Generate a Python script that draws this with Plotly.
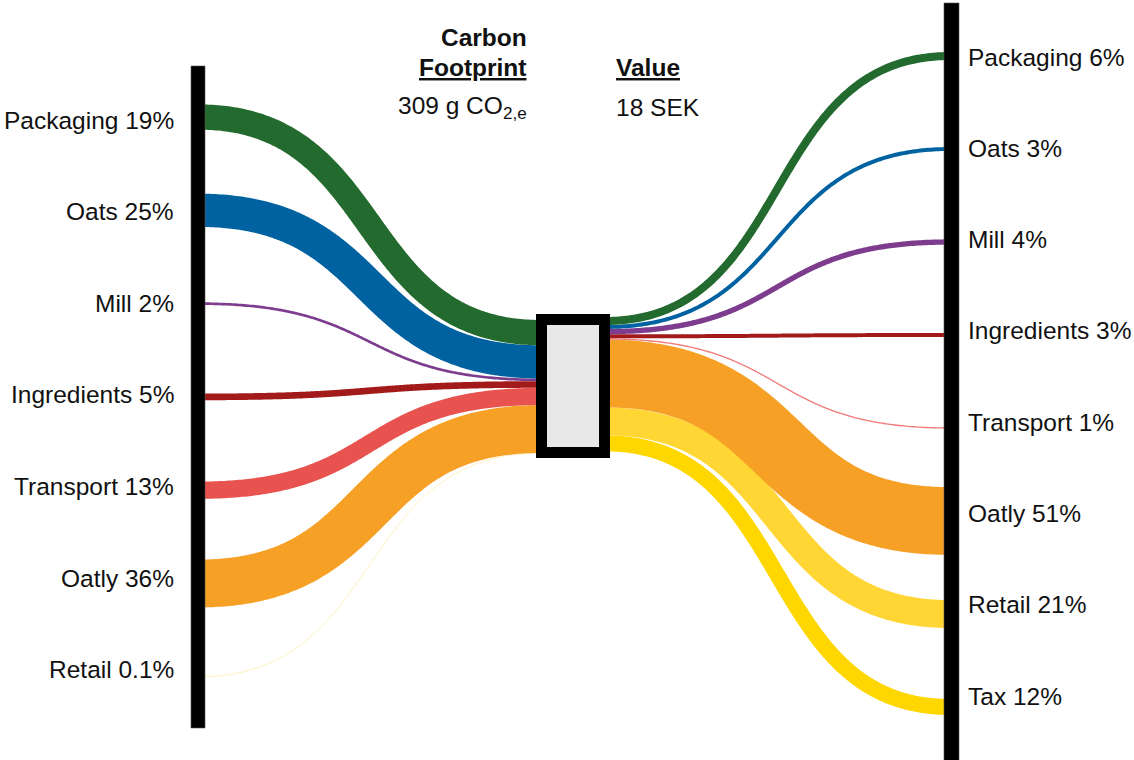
import numpy as np
import plotly.graph_objects as go

# ---- data ----
left_labels = ["Packaging", "Oats", "Mill", "Ingredients", "Transport", "Oatly", "Retail"]
left_pct = [19, 25, 2, 5, 13, 36, 0.1]
left_pct_text = ["19%", "25%", "2%", "5%", "13%", "36%", "0.1%"]

right_labels = ["Packaging", "Oats", "Mill", "Ingredients", "Transport", "Oatly", "Retail", "Tax"]
right_pct = [6, 3, 4, 3, 1, 51, 21, 12]
right_pct_text = ["6%", "3%", "4%", "3%", "1%", "51%", "21%", "12%"]

carbon_total = "309 g CO<sub>2,e</sub>"
value_total = "18 SEK"

# ---- styles ----
left_colors = ["#236A2E", "#0062A0", "#7D3C8E", "#A21A1A", "#E8534F", "#F6A025", "#FFF0C0"]
right_colors = ["#236A2E", "#0062A0", "#7D3C8E", "#A21A1A", "#F07A76", "#F6A025", "#FFD633", "#FFD700"]

W, H = 1134, 760
K = 1.33              # px per percent
FONT = "Liberation Sans, Arial, sans-serif"
FS = 24.5

LBAR = (191, 205, 66, 728)
RBAR = (944, 959, 3, 762)
BOX = (536, 610, 314, 458)

left_row0, left_step = 117, 93.3
right_row0, right_step = 56, 93.0
left_lab0, left_lab_step = 120, 91.6
right_lab0, right_lab_step = 57, 91.3
left_stack0, right_stack0 = 320, 317


def bez(x0, y0, x1, y1, c=0.55, n=200):
    t = np.linspace(0, 1, n)
    cx0 = x0 + c * (x1 - x0)
    cx1 = x1 - c * (x1 - x0)
    x = (1 - t) ** 3 * x0 + 3 * (1 - t) ** 2 * t * cx0 + 3 * (1 - t) * t ** 2 * cx1 + t ** 3 * x1
    y = (1 - t) ** 3 * y0 + 3 * (1 - t) ** 2 * t * y0 + 3 * (1 - t) * t ** 2 * y1 + t ** 3 * y1
    return x, y


fig = go.Figure()

# left flows
cum = 0.0
left_centers = []
for i, v in enumerate(left_pct):
    w = v * K
    left_centers.append(left_stack0 + cum + w / 2)
    cum += w
order = [6, 5, 4, 3, 2, 1, 0]
for i in order:
    v = left_pct[i]
    y0 = left_row0 + i * left_step
    x, y = bez(198, y0, 541, left_centers[i])
    fig.add_trace(go.Scatter(x=x, y=y, mode="lines",
                             line=dict(color=left_colors[i], width=max(v * K, 1.0), simplify=False),
                             hoverinfo="skip", showlegend=False))

# right flows
cum = 0.0
right_centers = []
for i, v in enumerate(right_pct):
    w = v * K
    right_centers.append(right_stack0 + cum + w / 2)
    cum += w
for i in reversed(range(len(right_pct))):
    v = right_pct[i]
    y1 = right_row0 + i * right_step
    x, y = bez(605, right_centers[i], 950, y1)
    fig.add_trace(go.Scatter(x=x, y=y, mode="lines",
                             line=dict(color=right_colors[i], width=v * K, simplify=False),
                             hoverinfo="skip", showlegend=False))

shapes = []
shapes.append(dict(type="rect", xref="x", yref="y", x0=LBAR[0], x1=LBAR[1], y0=LBAR[2], y1=LBAR[3],
                   fillcolor="black", line=dict(width=0.6, color="#555")))
shapes.append(dict(type="rect", xref="x", yref="y", x0=RBAR[0], x1=RBAR[1], y0=RBAR[2], y1=RBAR[3],
                   fillcolor="black", line=dict(width=0.6, color="#555")))
bw = 11
shapes.append(dict(type="rect", xref="x", yref="y",
                   x0=BOX[0] + bw / 2, x1=BOX[1] - bw / 2, y0=BOX[2] + bw / 2, y1=BOX[3] - bw / 2,
                   fillcolor="#E8E8E8", line=dict(width=bw, color="black")))

ann = []
for i, (lab, p) in enumerate(zip(left_labels, left_pct_text)):
    ann.append(dict(x=176, y=left_lab0 + i * left_lab_step, text=f"{lab} {p}", xanchor="right",
                    yanchor="middle", showarrow=False, font=dict(size=FS, color="#111", family=FONT)))
for i, (lab, p) in enumerate(zip(right_labels, right_pct_text)):
    ann.append(dict(x=966, y=right_lab0 + i * right_lab_step, text=f"{lab} {p}", xanchor="left",
                    yanchor="middle", showarrow=False, font=dict(size=FS, color="#111", family=FONT)))

ann.append(dict(x=529, y=37, text="<b>Carbon</b>", xanchor="right", yanchor="middle", showarrow=False,
                font=dict(size=FS, color="#111", family=FONT)))
ann.append(dict(x=529, y=67, text="<b><u>Footprint</u></b>", xanchor="right", yanchor="middle", showarrow=False,
                font=dict(size=FS, color="#111", family=FONT)))
ann.append(dict(x=529, y=107, text=carbon_total, xanchor="right", yanchor="middle", showarrow=False,
                font=dict(size=FS, color="#111", family=FONT)))
ann.append(dict(x=614, y=67, text="<b><u>Value</u></b>", xanchor="left", yanchor="middle", showarrow=False,
                font=dict(size=FS, color="#111", family=FONT)))
ann.append(dict(x=614, y=107, text=value_total, xanchor="left", yanchor="middle", showarrow=False,
                font=dict(size=FS, color="#111", family=FONT)))

fig.update_layout(
    width=W, height=H, margin=dict(l=0, r=0, t=0, b=0),
    paper_bgcolor="white", plot_bgcolor="white",
    xaxis=dict(range=[0, W], visible=False, fixedrange=True),
    yaxis=dict(range=[H, 0], visible=False, fixedrange=True),
    shapes=shapes, annotations=ann, showlegend=False,
)

fig.write_html("out.html")
